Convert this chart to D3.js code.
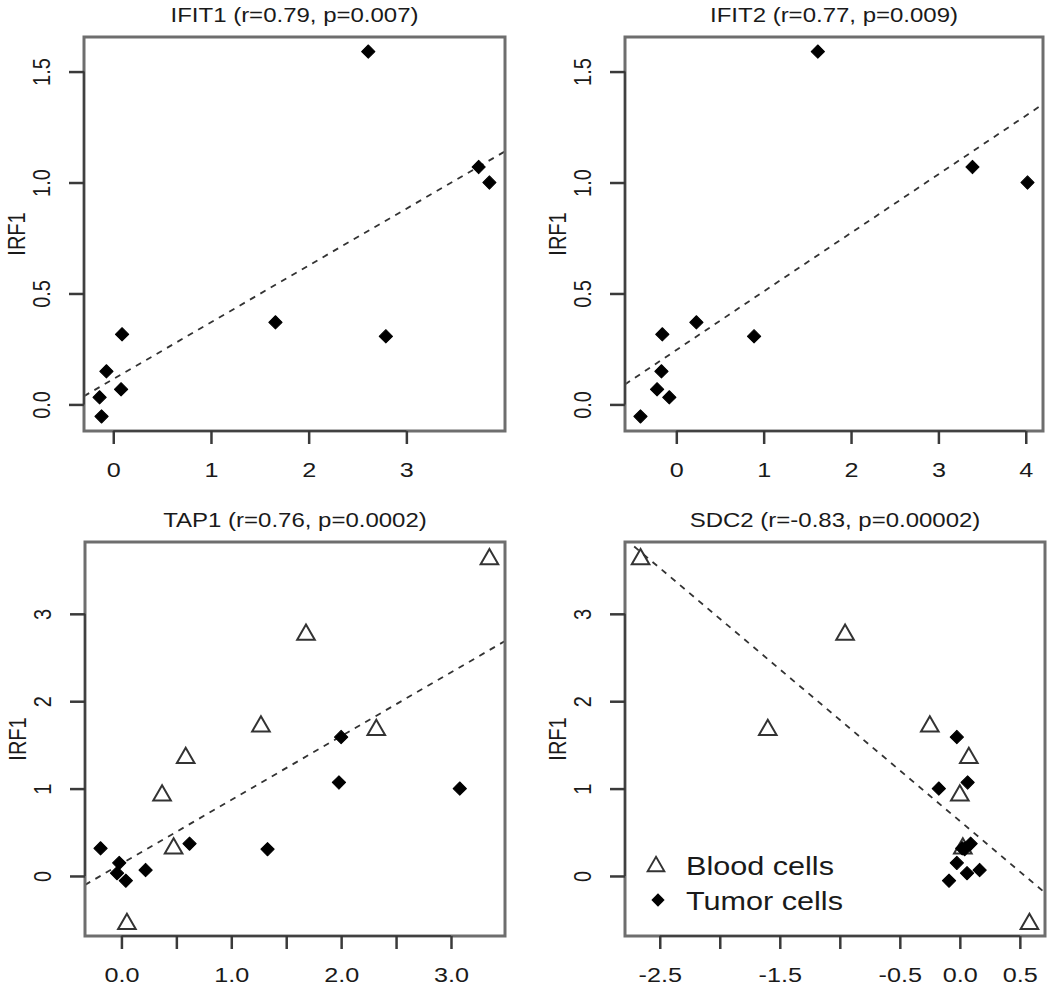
<!DOCTYPE html>
<html>
<head>
<meta charset="utf-8">
<script src="https://cdn.jsdelivr.net/npm/d3@7"></script>
<style>
  body { margin: 0; background: #fff; }
  text { font-family: "Liberation Sans", Arial, Helvetica, sans-serif; fill: #1a1a1a; }
</style>
</head>
<body>
<script>
// values (IRF1 vs. four genes)
const irf1Tumor = [1.59, 1.07, 1.00, 0.37, 0.307, 0.316, 0.149, 0.068, 0.032, -0.054];
const irf1Blood = [3.655, 2.79, 1.74, 1.70, 1.38, 0.95, 0.345, -0.52];

const ifit1Tumor = [2.61, 3.74, 3.85, 1.66, 2.79, 0.09, -0.07, 0.08, -0.14, -0.12];
const ifit2Tumor = [1.62, 3.39, 4.02, 0.23, 0.89, -0.16, -0.17, -0.22, -0.08, -0.41];
const tap1Tumor = [2.00, 1.98, 3.08, 0.62, 1.33, -0.19, -0.02, 0.22, -0.04, 0.04];
const tap1Blood = [3.35, 1.68, 1.27, 2.32, 0.585, 0.37, 0.475, 0.05];
const sdc2Tumor = [-0.025, 0.065, -0.175, 0.09, 0.04, 0.02, -0.025, 0.165, 0.06, -0.09];
const sdc2Blood = [-2.66, -0.956, -0.25, -1.60, 0.075, 0.0, 0.025, 0.58];

const titles = ["IFIT1 (r=0.79, p=0.007)", "IFIT2 (r=0.77, p=0.009)",
                "TAP1 (r=0.76, p=0.0002)", "SDC2 (r=-0.83, p=0.00002)"];
const fitIntercept = [0.114, 0.245, 0.14, 0.629];
const fitSlope = [0.256, 0.264, 0.73, -1.158];

const xTicks = [[0, 1, 2, 3], [0, 1, 2, 3, 4], [0, 0.5, 1, 1.5, 2, 2.5, 3],
                [-2.5, -2, -1.5, -1, -0.5, 0, 0.5]];
const xTickLabels = [["0", "1", "2", "3"], ["0", "1", "2", "3", "4"],
                     ["0.0", "", "1.0", "", "2.0", "", "3.0"],
                     ["-2.5", "", "-1.5", "", "-0.5", "0.0", "0.5"]];
const yTicks = [[0, 0.5, 1, 1.5], [0, 0.5, 1, 1.5], [0, 1, 2, 3], [0, 1, 2, 3]];
const yTickLabels = [["0.0", "0.5", "1.0", "1.5"], ["0.0", "0.5", "1.0", "1.5"],
                     ["0", "1", "2", "3"], ["0", "1", "2", "3"]];
const legendLabels = ["Blood cells", "Tumor cells"];

// plot regions on the page
const boxes = [
  {x0: 84, x1: 505, y0: 37, y1: 431},
  {x0: 625, x1: 1043, y0: 37, y1: 431},
  {x0: 85, x1: 505, y0: 542, y1: 936},
  {x0: 625, x1: 1045, y0: 542, y1: 936}
];

const panels = [
  {tumorX: ifit1Tumor, tumorY: irf1Tumor, bloodX: [], bloodY: []},
  {tumorX: ifit2Tumor, tumorY: irf1Tumor, bloodX: [], bloodY: []},
  {tumorX: tap1Tumor, tumorY: irf1Tumor, bloodX: tap1Blood, bloodY: irf1Blood},
  {tumorX: sdc2Tumor, tumorY: irf1Tumor, bloodX: sdc2Blood, bloodY: irf1Blood}
];

const stretch = 1.2; // the picture is a bit wider than tall

// R style limits: data range plus 4% each side
function rLim(vals) {
  const [lo, hi] = d3.extent(vals);
  const pad = (hi - lo) * 0.04;
  return [lo - pad, hi + pad];
}

const triPath = "M0,-7.6L8.8,7.6L-8.8,7.6Z";
const diamond = d3.symbol(d3.symbolSquare, 88)();

const svg = d3.select("body").append("svg")
  .attr("width", 1050)
  .attr("height", 988);

panels.forEach(function (p, i) {
  const b = boxes[i];
  const x = d3.scaleLinear().domain(rLim(p.tumorX.concat(p.bloodX))).range([b.x0, b.x1]);
  const y = d3.scaleLinear().domain(rLim(p.tumorY.concat(p.bloodY))).range([b.y1, b.y0]);

  const g = svg.append("g");

  g.append("clipPath").attr("id", "clip" + i)
    .append("rect")
    .attr("x", b.x0).attr("y", b.y0)
    .attr("width", b.x1 - b.x0).attr("height", b.y1 - b.y0);

  // fitted line
  const xd = x.domain();
  g.append("line")
    .attr("clip-path", "url(#clip" + i + ")")
    .attr("x1", x(xd[0])).attr("y1", y(fitIntercept[i] + fitSlope[i] * xd[0]))
    .attr("x2", x(xd[1])).attr("y2", y(fitIntercept[i] + fitSlope[i] * xd[1]))
    .attr("stroke", "#333")
    .attr("stroke-width", 1.8)
    .attr("stroke-dasharray", "6,6");

  // box
  g.append("rect")
    .attr("x", b.x0).attr("y", b.y0)
    .attr("width", b.x1 - b.x0).attr("height", b.y1 - b.y0)
    .attr("fill", "none")
    .attr("stroke", "#6e6e6e")
    .attr("stroke-width", 3);

  // x axis
  const xa = g.append("g")
    .attr("transform", "translate(0," + b.y1 + ")")
    .call(d3.axisBottom(x)
      .tickValues(xTicks[i])
      .tickFormat((d, k) => xTickLabels[i][k])
      .tickSize(13)
      .tickPadding(0));
  xa.select(".domain").remove();
  xa.selectAll(".tick line").attr("stroke", "#3a3a3a").attr("stroke-width", 2.5);
  xa.selectAll(".tick text")
    .attr("y", 46).attr("dy", null)
    .attr("font-size", 21)
    .attr("fill", "#1a1a1a")
    .attr("transform", "scale(" + stretch + ",1)")
    .attr("x", 0);
  g.append("line")
    .attr("x1", x(xTicks[i][0])).attr("x2", x(xTicks[i][xTicks[i].length - 1]))
    .attr("y1", b.y1).attr("y2", b.y1)
    .attr("stroke", "#333").attr("stroke-width", 1.5);

  // y axis
  const ya = g.append("g")
    .attr("transform", "translate(" + b.x0 + ",0)")
    .call(d3.axisLeft(y)
      .tickValues(yTicks[i])
      .tickFormat((d, k) => yTickLabels[i][k])
      .tickSize(15)
      .tickPadding(0));
  ya.select(".domain").remove();
  ya.selectAll(".tick line").attr("stroke", "#3a3a3a").attr("stroke-width", 2.5);
  ya.selectAll(".tick text")
    .attr("x", 0).attr("y", 0).attr("dy", null)
    .attr("text-anchor", "middle")
    .attr("font-size", 20)
    .attr("fill", "#1a1a1a")
    .attr("transform", "translate(-34,0) scale(" + stretch + ",1) rotate(-90)");
  g.append("line")
    .attr("x1", b.x0).attr("x2", b.x0)
    .attr("y1", y(yTicks[i][0])).attr("y2", y(yTicks[i][yTicks[i].length - 1]))
    .attr("stroke", "#333").attr("stroke-width", 1.5);

  // axis label
  g.append("text")
    .attr("transform", "translate(" + (b.x0 - 59) + "," + ((b.y0 + b.y1) / 2) + ") scale(" + stretch + ",1) rotate(-90)")
    .attr("text-anchor", "middle")
    .attr("font-size", 20)
    .text("IRF1");

  // title
  g.append("text")
    .attr("transform", "translate(" + ((b.x0 + b.x1) / 2) + "," + (b.y0 - 15) + ") scale(" + stretch + ",1)")
    .attr("text-anchor", "middle")
    .attr("font-size", 20)
    .text(titles[i]);

  // blood cells: open triangles
  g.selectAll(".blood")
    .data(d3.zip(p.bloodX, p.bloodY))
    .join("path")
    .attr("class", "blood")
    .attr("d", triPath)
    .attr("transform", d => "translate(" + x(d[0]) + "," + y(d[1]) + ")")
    .attr("fill", "none")
    .attr("stroke", "#333")
    .attr("stroke-width", 2);

  // tumor cells: filled diamonds
  g.selectAll(".tumor")
    .data(d3.zip(p.tumorX, p.tumorY))
    .join("path")
    .attr("class", "tumor")
    .attr("d", diamond)
    .attr("transform", d => "translate(" + x(d[0]) + "," + y(d[1]) + ") rotate(45)")
    .attr("fill", "#000")
    .attr("stroke", "#000")
    .attr("stroke-width", 1)
    .attr("stroke-linejoin", "round");
});

// legend in the last panel
const lg = svg.append("g");
lg.append("path")
  .attr("d", triPath)
  .attr("transform", "translate(656,864) scale(0.95)")
  .attr("fill", "none")
  .attr("stroke", "#333")
  .attr("stroke-width", 2);
lg.append("path")
  .attr("d", diamond)
  .attr("transform", "translate(658,900) rotate(45)")
  .attr("fill", "#000");
legendLabels.forEach(function (t, k) {
  lg.append("text")
    .attr("transform", "translate(686," + (875 + k * 35) + ") scale(" + stretch + ",1)")
    .attr("font-size", 25.5)
    .text(t);
});
</script>
</body>
</html>
